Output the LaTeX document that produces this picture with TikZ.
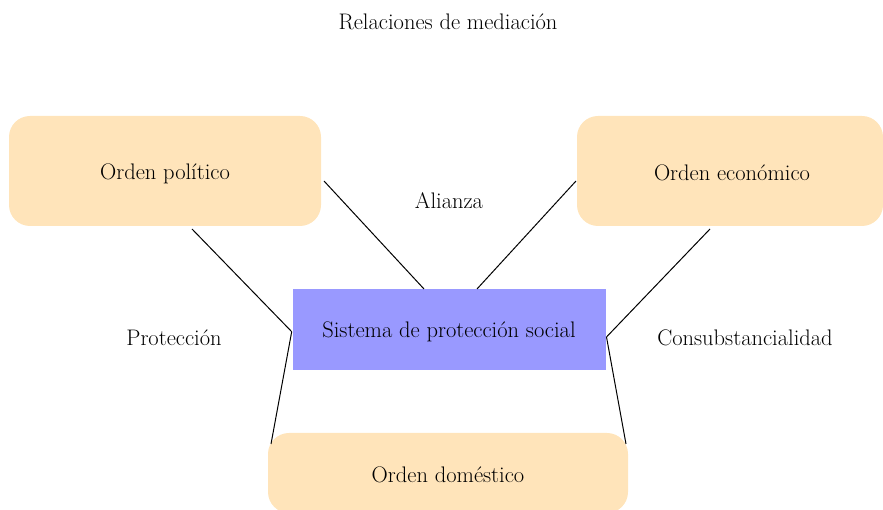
\documentclass[tikz,border=0pt]{standalone}
\usepackage{fontspec}
\setmainfont{Latin Modern Roman}
\definecolor{peach}{HTML}{FFE4BA}
\definecolor{lavblue}{HTML}{9999FF}
\tikzset{
  x=1pt, y=1pt,
  lbl/.style={font=\fontsize{22.5}{25}\selectfont, inner sep=0pt},
  link/.style={draw=black, line width=1pt},
}
\begin{document}
\begin{tikzpicture}
\useasboundingbox (0,0) rectangle (883,510);
% boxes
\fill[peach, rounded corners=21pt] (9,284) rectangle (321,394);
\fill[peach, rounded corners=21pt] (577,284) rectangle (883,394);
\fill[lavblue] (293,221) rectangle (606,140);
\fill[peach, rounded corners=21pt] (268,77) rectangle (628,-3);
% texts
\node[lbl] (title) at (448,488) {Relaciones de mediación};
\node[lbl] (pol) at (165,336) {Orden político};
\node[lbl] (eco) at (732,337) {Orden económico};
\node[lbl] (sis) at (449,178) {Sistema de protección social};
\node[lbl] (dom) at (448,35) {Orden doméstico};
\node[lbl] (ali) at (449,309) {Alianza};
\node[lbl] (pro) at (174,172) {Protección};
\node[lbl] (con) at (745,172) {Consubstancialidad};
% connector ends
\coordinate (polR) at (324,329);
\coordinate (polB) at (192,281);
\coordinate (ecoL) at (576,329);
\coordinate (ecoB) at (710,281);
\coordinate (sisTL) at (424,221);
\coordinate (sisTR) at (477,221);
\coordinate (sisL) at (291.7,178.3);
\coordinate (sisR) at (606.5,173);
\coordinate (domL) at (271,66);
\coordinate (domR) at (626,66);
\draw[link] (polR) -- (sisTL);
\draw[link] (ecoL) -- (sisTR);
\draw[link] (polB) -- (sisL);
\draw[link] (sisL) -- (domL);
\draw[link] (ecoB) -- (sisR);
\draw[link] (sisR) -- (domR);
\end{tikzpicture}
\end{document}
